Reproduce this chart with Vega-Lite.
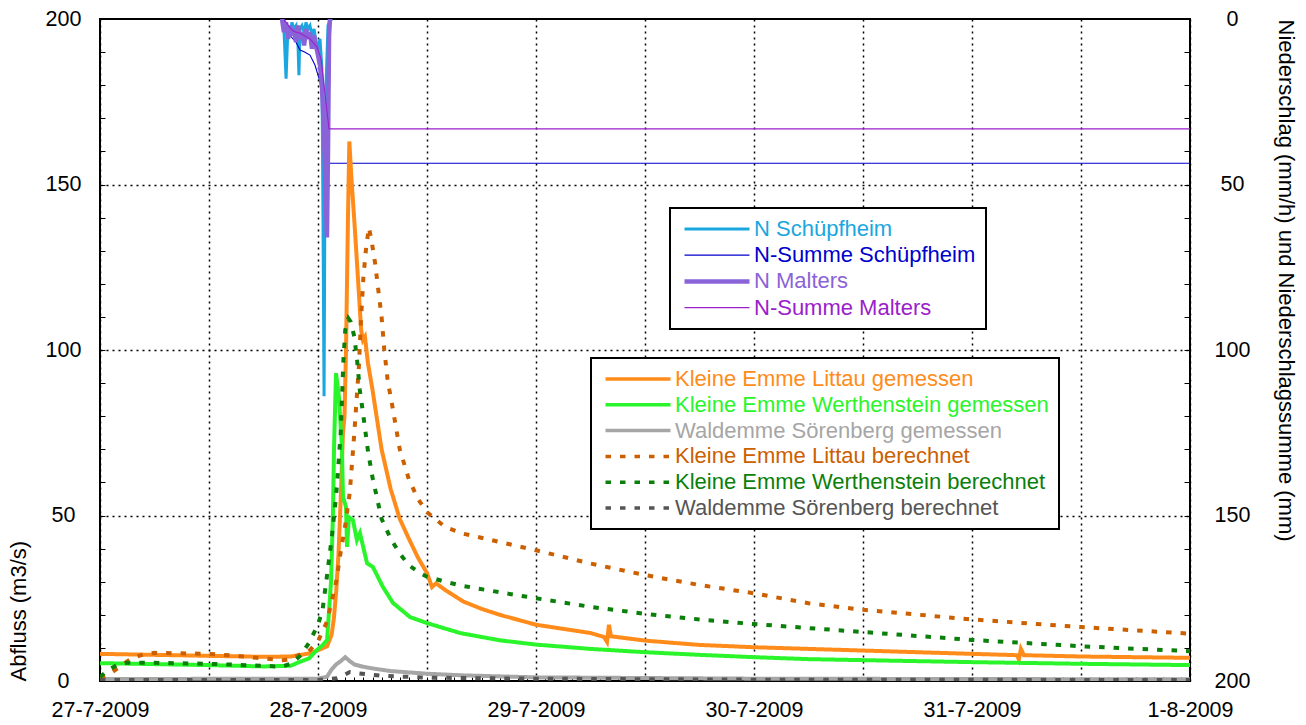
{
  "$schema": "https://vega.github.io/schema/vega-lite/v6.json",
  "width": 1090,
  "height": 662,
  "autosize": {"type": "none"},
  "padding": {"left": 100, "top": 19, "right": 116, "bottom": 44},
  "background": "white",
  "config": {
    "font": "Liberation Sans",
    "view": {"stroke": "black", "strokeWidth": 2},
    "axis": {
      "labelFont": "Liberation Sans", "labelFontSize": 21.5, "labelColor": "black",
      "titleFont": "Liberation Sans", "titleFontSize": 22, "titleFontWeight": "normal", "titleColor": "black",
      "domain": false, "tickColor": "black", "tickWidth": 1,
      "labelOverlap": false, "labelFlush": false, "labelBound": false
    }
  },
  "datasets": {
    "p": [
      {"t": "2009-07-27T20:02", "s": "N Schüpfheim", "v": 0},
      {"t": "2009-07-27T20:15", "s": "N Schüpfheim", "v": 3},
      {"t": "2009-07-27T20:29", "s": "N Schüpfheim", "v": 18},
      {"t": "2009-07-27T20:42", "s": "N Schüpfheim", "v": 2},
      {"t": "2009-07-27T20:55", "s": "N Schüpfheim", "v": 4},
      {"t": "2009-07-27T21:08", "s": "N Schüpfheim", "v": 1},
      {"t": "2009-07-27T21:21", "s": "N Schüpfheim", "v": 3},
      {"t": "2009-07-27T21:35", "s": "N Schüpfheim", "v": 2},
      {"t": "2009-07-27T21:48", "s": "N Schüpfheim", "v": 8},
      {"t": "2009-07-27T21:54", "s": "N Schüpfheim", "v": 17},
      {"t": "2009-07-27T22:01", "s": "N Schüpfheim", "v": 3},
      {"t": "2009-07-27T22:14", "s": "N Schüpfheim", "v": 2},
      {"t": "2009-07-27T22:28", "s": "N Schüpfheim", "v": 4},
      {"t": "2009-07-27T22:41", "s": "N Schüpfheim", "v": 1},
      {"t": "2009-07-27T22:54", "s": "N Schüpfheim", "v": 3},
      {"t": "2009-07-27T23:07", "s": "N Schüpfheim", "v": 2},
      {"t": "2009-07-27T23:20", "s": "N Schüpfheim", "v": 5},
      {"t": "2009-07-27T23:34", "s": "N Schüpfheim", "v": 3},
      {"t": "2009-07-27T23:47", "s": "N Schüpfheim", "v": 7},
      {"t": "2009-07-28T00:00", "s": "N Schüpfheim", "v": 9},
      {"t": "2009-07-28T00:13", "s": "N Schüpfheim", "v": 6},
      {"t": "2009-07-28T00:26", "s": "N Schüpfheim", "v": 15},
      {"t": "2009-07-28T00:33", "s": "N Schüpfheim", "v": 60},
      {"t": "2009-07-28T00:40", "s": "N Schüpfheim", "v": 114},
      {"t": "2009-07-28T00:46", "s": "N Schüpfheim", "v": 50},
      {"t": "2009-07-28T00:53", "s": "N Schüpfheim", "v": 20},
      {"t": "2009-07-28T01:06", "s": "N Schüpfheim", "v": 2},
      {"t": "2009-07-28T01:19", "s": "N Schüpfheim", "v": 0.5},
      {"t": "2009-07-28T01:32", "s": "N Schüpfheim", "v": 0},

      {"t": "2009-07-27T20:15", "s": "N-Summe Schüpfheim", "v": 0},
      {"t": "2009-07-27T20:55", "s": "N-Summe Schüpfheim", "v": 5},
      {"t": "2009-07-27T21:35", "s": "N-Summe Schüpfheim", "v": 7},
      {"t": "2009-07-27T22:01", "s": "N-Summe Schüpfheim", "v": 9.4},
      {"t": "2009-07-27T22:28", "s": "N-Summe Schüpfheim", "v": 9.9},
      {"t": "2009-07-27T23:07", "s": "N-Summe Schüpfheim", "v": 10.9},
      {"t": "2009-07-27T23:40", "s": "N-Summe Schüpfheim", "v": 13.9},
      {"t": "2009-07-28T00:13", "s": "N-Summe Schüpfheim", "v": 18.9},
      {"t": "2009-07-28T00:24", "s": "N-Summe Schüpfheim", "v": 23.9},
      {"t": "2009-07-28T00:40", "s": "N-Summe Schüpfheim", "v": 41.6},
      {"t": "2009-07-28T00:59", "s": "N-Summe Schüpfheim", "v": 43.6},
      {"t": "2009-08-01T00:00", "s": "N-Summe Schüpfheim", "v": 43.6},

      {"t": "2009-07-27T20:02", "s": "N Malters", "v": 0},
      {"t": "2009-07-27T20:15", "s": "N Malters", "v": 4},
      {"t": "2009-07-27T20:29", "s": "N Malters", "v": 1},
      {"t": "2009-07-27T20:42", "s": "N Malters", "v": 6},
      {"t": "2009-07-27T20:55", "s": "N Malters", "v": 2},
      {"t": "2009-07-27T21:08", "s": "N Malters", "v": 5},
      {"t": "2009-07-27T21:21", "s": "N Malters", "v": 3},
      {"t": "2009-07-27T21:35", "s": "N Malters", "v": 7},
      {"t": "2009-07-27T21:48", "s": "N Malters", "v": 2},
      {"t": "2009-07-27T22:01", "s": "N Malters", "v": 6},
      {"t": "2009-07-27T22:14", "s": "N Malters", "v": 4},
      {"t": "2009-07-27T22:28", "s": "N Malters", "v": 8},
      {"t": "2009-07-27T22:41", "s": "N Malters", "v": 3},
      {"t": "2009-07-27T22:54", "s": "N Malters", "v": 6},
      {"t": "2009-07-27T23:07", "s": "N Malters", "v": 4},
      {"t": "2009-07-27T23:20", "s": "N Malters", "v": 9},
      {"t": "2009-07-27T23:34", "s": "N Malters", "v": 5},
      {"t": "2009-07-27T23:47", "s": "N Malters", "v": 8},
      {"t": "2009-07-28T00:00", "s": "N Malters", "v": 11},
      {"t": "2009-07-28T00:13", "s": "N Malters", "v": 14},
      {"t": "2009-07-28T00:26", "s": "N Malters", "v": 20},
      {"t": "2009-07-28T00:40", "s": "N Malters", "v": 35},
      {"t": "2009-07-28T00:59", "s": "N Malters", "v": 66},
      {"t": "2009-07-28T01:06", "s": "N Malters", "v": 40},
      {"t": "2009-07-28T01:13", "s": "N Malters", "v": 5},
      {"t": "2009-07-28T01:19", "s": "N Malters", "v": 0},

      {"t": "2009-07-27T20:15", "s": "N-Summe Malters", "v": 0},
      {"t": "2009-07-27T20:55", "s": "N-Summe Malters", "v": 2.7},
      {"t": "2009-07-27T21:21", "s": "N-Summe Malters", "v": 3.8},
      {"t": "2009-07-27T22:01", "s": "N-Summe Malters", "v": 4.3},
      {"t": "2009-07-27T23:07", "s": "N-Summe Malters", "v": 6},
      {"t": "2009-07-27T23:53", "s": "N-Summe Malters", "v": 8.4},
      {"t": "2009-07-28T00:20", "s": "N-Summe Malters", "v": 12},
      {"t": "2009-07-28T00:40", "s": "N-Summe Malters", "v": 20},
      {"t": "2009-07-28T00:59", "s": "N-Summe Malters", "v": 28},
      {"t": "2009-07-28T01:06", "s": "N-Summe Malters", "v": 30.5},
      {"t": "2009-07-28T01:13", "s": "N-Summe Malters", "v": 33.2},
      {"t": "2009-08-01T00:00", "s": "N-Summe Malters", "v": 33.2}
    ],
    "q": [
      {"t": "2009-07-27T00:00", "s": "Kleine Emme Littau gemessen", "v": 8.2},
      {"t": "2009-07-27T06:00", "s": "Kleine Emme Littau gemessen", "v": 7.9},
      {"t": "2009-07-27T12:00", "s": "Kleine Emme Littau gemessen", "v": 7.6},
      {"t": "2009-07-27T18:00", "s": "Kleine Emme Littau gemessen", "v": 7.3},
      {"t": "2009-07-27T21:00", "s": "Kleine Emme Littau gemessen", "v": 7.4},
      {"t": "2009-07-27T23:00", "s": "Kleine Emme Littau gemessen", "v": 8.3},
      {"t": "2009-07-28T00:00", "s": "Kleine Emme Littau gemessen", "v": 9.3},
      {"t": "2009-07-28T01:00", "s": "Kleine Emme Littau gemessen", "v": 10.5},
      {"t": "2009-07-28T01:30", "s": "Kleine Emme Littau gemessen", "v": 14},
      {"t": "2009-07-28T01:45", "s": "Kleine Emme Littau gemessen", "v": 19},
      {"t": "2009-07-28T02:00", "s": "Kleine Emme Littau gemessen", "v": 27},
      {"t": "2009-07-28T02:15", "s": "Kleine Emme Littau gemessen", "v": 38},
      {"t": "2009-07-28T02:30", "s": "Kleine Emme Littau gemessen", "v": 55},
      {"t": "2009-07-28T02:45", "s": "Kleine Emme Littau gemessen", "v": 75},
      {"t": "2009-07-28T02:55", "s": "Kleine Emme Littau gemessen", "v": 80},
      {"t": "2009-07-28T03:05", "s": "Kleine Emme Littau gemessen", "v": 100},
      {"t": "2009-07-28T03:18", "s": "Kleine Emme Littau gemessen", "v": 140},
      {"t": "2009-07-28T03:27", "s": "Kleine Emme Littau gemessen", "v": 163},
      {"t": "2009-07-28T03:42", "s": "Kleine Emme Littau gemessen", "v": 151},
      {"t": "2009-07-28T04:00", "s": "Kleine Emme Littau gemessen", "v": 139},
      {"t": "2009-07-28T04:18", "s": "Kleine Emme Littau gemessen", "v": 126},
      {"t": "2009-07-28T04:45", "s": "Kleine Emme Littau gemessen", "v": 106},
      {"t": "2009-07-28T04:57", "s": "Kleine Emme Littau gemessen", "v": 103},
      {"t": "2009-07-28T05:10", "s": "Kleine Emme Littau gemessen", "v": 104},
      {"t": "2009-07-28T05:30", "s": "Kleine Emme Littau gemessen", "v": 96},
      {"t": "2009-07-28T06:00", "s": "Kleine Emme Littau gemessen", "v": 88},
      {"t": "2009-07-28T07:00", "s": "Kleine Emme Littau gemessen", "v": 70},
      {"t": "2009-07-28T08:00", "s": "Kleine Emme Littau gemessen", "v": 58},
      {"t": "2009-07-28T09:00", "s": "Kleine Emme Littau gemessen", "v": 49},
      {"t": "2009-07-28T10:00", "s": "Kleine Emme Littau gemessen", "v": 43},
      {"t": "2009-07-28T11:00", "s": "Kleine Emme Littau gemessen", "v": 37.3},
      {"t": "2009-07-28T12:00", "s": "Kleine Emme Littau gemessen", "v": 32.6},
      {"t": "2009-07-28T12:33", "s": "Kleine Emme Littau gemessen", "v": 28.4},
      {"t": "2009-07-28T13:00", "s": "Kleine Emme Littau gemessen", "v": 29.5},
      {"t": "2009-07-28T14:00", "s": "Kleine Emme Littau gemessen", "v": 27.5},
      {"t": "2009-07-28T16:00", "s": "Kleine Emme Littau gemessen", "v": 24},
      {"t": "2009-07-28T18:00", "s": "Kleine Emme Littau gemessen", "v": 21.8},
      {"t": "2009-07-28T20:00", "s": "Kleine Emme Littau gemessen", "v": 20},
      {"t": "2009-07-29T00:00", "s": "Kleine Emme Littau gemessen", "v": 17},
      {"t": "2009-07-29T06:00", "s": "Kleine Emme Littau gemessen", "v": 14.5},
      {"t": "2009-07-29T07:29", "s": "Kleine Emme Littau gemessen", "v": 13.3},
      {"t": "2009-07-29T07:49", "s": "Kleine Emme Littau gemessen", "v": 11.8},
      {"t": "2009-07-29T08:02", "s": "Kleine Emme Littau gemessen", "v": 17},
      {"t": "2009-07-29T08:15", "s": "Kleine Emme Littau gemessen", "v": 13.5},
      {"t": "2009-07-29T12:00", "s": "Kleine Emme Littau gemessen", "v": 12.2},
      {"t": "2009-07-29T18:00", "s": "Kleine Emme Littau gemessen", "v": 10.9},
      {"t": "2009-07-30T00:00", "s": "Kleine Emme Littau gemessen", "v": 10.2},
      {"t": "2009-07-30T12:00", "s": "Kleine Emme Littau gemessen", "v": 9.2},
      {"t": "2009-07-31T00:00", "s": "Kleine Emme Littau gemessen", "v": 8.2},
      {"t": "2009-07-31T04:57", "s": "Kleine Emme Littau gemessen", "v": 7.8},
      {"t": "2009-07-31T05:10", "s": "Kleine Emme Littau gemessen", "v": 6.5},
      {"t": "2009-07-31T05:23", "s": "Kleine Emme Littau gemessen", "v": 9.7},
      {"t": "2009-07-31T05:43", "s": "Kleine Emme Littau gemessen", "v": 7.8},
      {"t": "2009-07-31T12:00", "s": "Kleine Emme Littau gemessen", "v": 7.4},
      {"t": "2009-08-01T00:00", "s": "Kleine Emme Littau gemessen", "v": 7.0},

      {"t": "2009-07-27T00:00", "s": "Kleine Emme Werthenstein gemessen", "v": 5.4},
      {"t": "2009-07-27T06:00", "s": "Kleine Emme Werthenstein gemessen", "v": 5.1},
      {"t": "2009-07-27T12:00", "s": "Kleine Emme Werthenstein gemessen", "v": 4.8},
      {"t": "2009-07-27T18:00", "s": "Kleine Emme Werthenstein gemessen", "v": 4.4},
      {"t": "2009-07-27T21:00", "s": "Kleine Emme Werthenstein gemessen", "v": 4.6},
      {"t": "2009-07-27T22:00", "s": "Kleine Emme Werthenstein gemessen", "v": 5.8},
      {"t": "2009-07-27T23:00", "s": "Kleine Emme Werthenstein gemessen", "v": 6.8},
      {"t": "2009-07-27T23:54", "s": "Kleine Emme Werthenstein gemessen", "v": 9.4},
      {"t": "2009-07-28T00:30", "s": "Kleine Emme Werthenstein gemessen", "v": 10.8},
      {"t": "2009-07-28T01:00", "s": "Kleine Emme Werthenstein gemessen", "v": 12.4},
      {"t": "2009-07-28T01:26", "s": "Kleine Emme Werthenstein gemessen", "v": 30},
      {"t": "2009-07-28T01:39", "s": "Kleine Emme Werthenstein gemessen", "v": 50.8},
      {"t": "2009-07-28T01:46", "s": "Kleine Emme Werthenstein gemessen", "v": 70.7},
      {"t": "2009-07-28T01:59", "s": "Kleine Emme Werthenstein gemessen", "v": 93},
      {"t": "2009-07-28T02:18", "s": "Kleine Emme Werthenstein gemessen", "v": 86},
      {"t": "2009-07-28T02:38", "s": "Kleine Emme Werthenstein gemessen", "v": 70.7},
      {"t": "2009-07-28T02:45", "s": "Kleine Emme Werthenstein gemessen", "v": 55.6},
      {"t": "2009-07-28T03:05", "s": "Kleine Emme Werthenstein gemessen", "v": 52.6},
      {"t": "2009-07-28T03:12", "s": "Kleine Emme Werthenstein gemessen", "v": 40.5},
      {"t": "2009-07-28T03:24", "s": "Kleine Emme Werthenstein gemessen", "v": 49.5},
      {"t": "2009-07-28T03:51", "s": "Kleine Emme Werthenstein gemessen", "v": 48.6},
      {"t": "2009-07-28T04:17", "s": "Kleine Emme Werthenstein gemessen", "v": 42.6},
      {"t": "2009-07-28T04:37", "s": "Kleine Emme Werthenstein gemessen", "v": 44.7},
      {"t": "2009-07-28T05:24", "s": "Kleine Emme Werthenstein gemessen", "v": 35.6},
      {"t": "2009-07-28T06:03", "s": "Kleine Emme Werthenstein gemessen", "v": 34.4},
      {"t": "2009-07-28T07:09", "s": "Kleine Emme Werthenstein gemessen", "v": 28.4},
      {"t": "2009-07-28T08:15", "s": "Kleine Emme Werthenstein gemessen", "v": 23.6},
      {"t": "2009-07-28T10:08", "s": "Kleine Emme Werthenstein gemessen", "v": 19.3},
      {"t": "2009-07-28T12:00", "s": "Kleine Emme Werthenstein gemessen", "v": 17.5},
      {"t": "2009-07-28T15:38", "s": "Kleine Emme Werthenstein gemessen", "v": 14.5},
      {"t": "2009-07-28T20:00", "s": "Kleine Emme Werthenstein gemessen", "v": 12.3},
      {"t": "2009-07-29T00:00", "s": "Kleine Emme Werthenstein gemessen", "v": 11},
      {"t": "2009-07-29T06:00", "s": "Kleine Emme Werthenstein gemessen", "v": 9.7},
      {"t": "2009-07-29T12:00", "s": "Kleine Emme Werthenstein gemessen", "v": 8.7},
      {"t": "2009-07-29T18:00", "s": "Kleine Emme Werthenstein gemessen", "v": 7.9},
      {"t": "2009-07-30T00:00", "s": "Kleine Emme Werthenstein gemessen", "v": 7.2},
      {"t": "2009-07-30T06:00", "s": "Kleine Emme Werthenstein gemessen", "v": 6.6},
      {"t": "2009-07-30T12:00", "s": "Kleine Emme Werthenstein gemessen", "v": 6.3},
      {"t": "2009-07-31T00:00", "s": "Kleine Emme Werthenstein gemessen", "v": 5.7},
      {"t": "2009-07-31T12:00", "s": "Kleine Emme Werthenstein gemessen", "v": 5.2},
      {"t": "2009-08-01T00:00", "s": "Kleine Emme Werthenstein gemessen", "v": 4.8},

      {"t": "2009-07-27T00:00", "s": "Waldemme Sörenberg gemessen", "v": 0.6},
      {"t": "2009-07-28T00:00", "s": "Waldemme Sörenberg gemessen", "v": 0.7},
      {"t": "2009-07-28T01:00", "s": "Waldemme Sörenberg gemessen", "v": 1.3},
      {"t": "2009-07-28T01:30", "s": "Waldemme Sörenberg gemessen", "v": 3.5},
      {"t": "2009-07-28T02:00", "s": "Waldemme Sörenberg gemessen", "v": 5},
      {"t": "2009-07-28T02:30", "s": "Waldemme Sörenberg gemessen", "v": 6},
      {"t": "2009-07-28T03:00", "s": "Waldemme Sörenberg gemessen", "v": 7.2},
      {"t": "2009-07-28T03:30", "s": "Waldemme Sörenberg gemessen", "v": 6},
      {"t": "2009-07-28T04:00", "s": "Waldemme Sörenberg gemessen", "v": 5},
      {"t": "2009-07-28T05:00", "s": "Waldemme Sörenberg gemessen", "v": 4.3},
      {"t": "2009-07-28T06:00", "s": "Waldemme Sörenberg gemessen", "v": 3.8},
      {"t": "2009-07-28T08:00", "s": "Waldemme Sörenberg gemessen", "v": 3},
      {"t": "2009-07-28T12:00", "s": "Waldemme Sörenberg gemessen", "v": 2.2},
      {"t": "2009-07-28T16:00", "s": "Waldemme Sörenberg gemessen", "v": 1.7},
      {"t": "2009-07-28T20:00", "s": "Waldemme Sörenberg gemessen", "v": 1.4},
      {"t": "2009-07-29T00:00", "s": "Waldemme Sörenberg gemessen", "v": 1.1},
      {"t": "2009-07-29T12:00", "s": "Waldemme Sörenberg gemessen", "v": 0.9},
      {"t": "2009-07-30T00:00", "s": "Waldemme Sörenberg gemessen", "v": 0.7},
      {"t": "2009-07-31T00:00", "s": "Waldemme Sörenberg gemessen", "v": 0.6},
      {"t": "2009-08-01T00:00", "s": "Waldemme Sörenberg gemessen", "v": 0.5},

      {"t": "2009-07-27T00:00", "s": "Kleine Emme Littau berechnet", "v": 1},
      {"t": "2009-07-27T01:00", "s": "Kleine Emme Littau berechnet", "v": 2},
      {"t": "2009-07-27T02:00", "s": "Kleine Emme Littau berechnet", "v": 4},
      {"t": "2009-07-27T03:00", "s": "Kleine Emme Littau berechnet", "v": 6},
      {"t": "2009-07-27T04:00", "s": "Kleine Emme Littau berechnet", "v": 7.3},
      {"t": "2009-07-27T05:00", "s": "Kleine Emme Littau berechnet", "v": 8.2},
      {"t": "2009-07-27T06:00", "s": "Kleine Emme Littau berechnet", "v": 8.5},
      {"t": "2009-07-27T12:00", "s": "Kleine Emme Littau berechnet", "v": 8.2},
      {"t": "2009-07-27T15:00", "s": "Kleine Emme Littau berechnet", "v": 7.6},
      {"t": "2009-07-27T18:00", "s": "Kleine Emme Littau berechnet", "v": 6.8},
      {"t": "2009-07-27T20:00", "s": "Kleine Emme Littau berechnet", "v": 6.3},
      {"t": "2009-07-27T21:00", "s": "Kleine Emme Littau berechnet", "v": 6.5},
      {"t": "2009-07-27T22:00", "s": "Kleine Emme Littau berechnet", "v": 8},
      {"t": "2009-07-27T23:00", "s": "Kleine Emme Littau berechnet", "v": 9},
      {"t": "2009-07-28T00:00", "s": "Kleine Emme Littau berechnet", "v": 12},
      {"t": "2009-07-28T01:00", "s": "Kleine Emme Littau berechnet", "v": 18},
      {"t": "2009-07-28T02:00", "s": "Kleine Emme Littau berechnet", "v": 30},
      {"t": "2009-07-28T02:30", "s": "Kleine Emme Littau berechnet", "v": 39},
      {"t": "2009-07-28T03:00", "s": "Kleine Emme Littau berechnet", "v": 47},
      {"t": "2009-07-28T03:30", "s": "Kleine Emme Littau berechnet", "v": 57},
      {"t": "2009-07-28T04:00", "s": "Kleine Emme Littau berechnet", "v": 75},
      {"t": "2009-07-28T04:30", "s": "Kleine Emme Littau berechnet", "v": 95},
      {"t": "2009-07-28T04:45", "s": "Kleine Emme Littau berechnet", "v": 110},
      {"t": "2009-07-28T05:00", "s": "Kleine Emme Littau berechnet", "v": 122},
      {"t": "2009-07-28T05:18", "s": "Kleine Emme Littau berechnet", "v": 131},
      {"t": "2009-07-28T05:36", "s": "Kleine Emme Littau berechnet", "v": 137},
      {"t": "2009-07-28T05:54", "s": "Kleine Emme Littau berechnet", "v": 133},
      {"t": "2009-07-28T06:18", "s": "Kleine Emme Littau berechnet", "v": 126},
      {"t": "2009-07-28T06:36", "s": "Kleine Emme Littau berechnet", "v": 119},
      {"t": "2009-07-28T07:00", "s": "Kleine Emme Littau berechnet", "v": 110},
      {"t": "2009-07-28T07:18", "s": "Kleine Emme Littau berechnet", "v": 100},
      {"t": "2009-07-28T07:42", "s": "Kleine Emme Littau berechnet", "v": 90},
      {"t": "2009-07-28T08:00", "s": "Kleine Emme Littau berechnet", "v": 86},
      {"t": "2009-07-28T08:30", "s": "Kleine Emme Littau berechnet", "v": 78},
      {"t": "2009-07-28T09:00", "s": "Kleine Emme Littau berechnet", "v": 70},
      {"t": "2009-07-28T10:00", "s": "Kleine Emme Littau berechnet", "v": 61},
      {"t": "2009-07-28T11:00", "s": "Kleine Emme Littau berechnet", "v": 55},
      {"t": "2009-07-28T12:00", "s": "Kleine Emme Littau berechnet", "v": 51},
      {"t": "2009-07-28T14:00", "s": "Kleine Emme Littau berechnet", "v": 46.5},
      {"t": "2009-07-28T16:00", "s": "Kleine Emme Littau berechnet", "v": 44.5},
      {"t": "2009-07-28T20:00", "s": "Kleine Emme Littau berechnet", "v": 42},
      {"t": "2009-07-29T00:00", "s": "Kleine Emme Littau berechnet", "v": 39.5},
      {"t": "2009-07-29T06:00", "s": "Kleine Emme Littau berechnet", "v": 35.5},
      {"t": "2009-07-29T12:00", "s": "Kleine Emme Littau berechnet", "v": 32},
      {"t": "2009-07-29T18:00", "s": "Kleine Emme Littau berechnet", "v": 29},
      {"t": "2009-07-30T00:00", "s": "Kleine Emme Littau berechnet", "v": 26.5},
      {"t": "2009-07-30T06:00", "s": "Kleine Emme Littau berechnet", "v": 23.5},
      {"t": "2009-07-30T12:00", "s": "Kleine Emme Littau berechnet", "v": 21.5},
      {"t": "2009-07-31T00:00", "s": "Kleine Emme Littau berechnet", "v": 18.6},
      {"t": "2009-07-31T12:00", "s": "Kleine Emme Littau berechnet", "v": 16.3},
      {"t": "2009-08-01T00:00", "s": "Kleine Emme Littau berechnet", "v": 14.3},

      {"t": "2009-07-27T00:00", "s": "Kleine Emme Werthenstein berechnet", "v": 1.2},
      {"t": "2009-07-27T01:00", "s": "Kleine Emme Werthenstein berechnet", "v": 3.5},
      {"t": "2009-07-27T02:00", "s": "Kleine Emme Werthenstein berechnet", "v": 5},
      {"t": "2009-07-27T03:00", "s": "Kleine Emme Werthenstein berechnet", "v": 5.5},
      {"t": "2009-07-27T06:00", "s": "Kleine Emme Werthenstein berechnet", "v": 5.5},
      {"t": "2009-07-27T12:00", "s": "Kleine Emme Werthenstein berechnet", "v": 5.2},
      {"t": "2009-07-27T18:00", "s": "Kleine Emme Werthenstein berechnet", "v": 4.6},
      {"t": "2009-07-27T20:00", "s": "Kleine Emme Werthenstein berechnet", "v": 4.3},
      {"t": "2009-07-27T21:00", "s": "Kleine Emme Werthenstein berechnet", "v": 5.2},
      {"t": "2009-07-27T22:00", "s": "Kleine Emme Werthenstein berechnet", "v": 7.5},
      {"t": "2009-07-27T23:00", "s": "Kleine Emme Werthenstein berechnet", "v": 11.5},
      {"t": "2009-07-28T00:00", "s": "Kleine Emme Werthenstein berechnet", "v": 17},
      {"t": "2009-07-28T00:30", "s": "Kleine Emme Werthenstein berechnet", "v": 21.5},
      {"t": "2009-07-28T01:00", "s": "Kleine Emme Werthenstein berechnet", "v": 32},
      {"t": "2009-07-28T01:30", "s": "Kleine Emme Werthenstein berechnet", "v": 43},
      {"t": "2009-07-28T02:00", "s": "Kleine Emme Werthenstein berechnet", "v": 56},
      {"t": "2009-07-28T02:30", "s": "Kleine Emme Werthenstein berechnet", "v": 75},
      {"t": "2009-07-28T02:48", "s": "Kleine Emme Werthenstein berechnet", "v": 97},
      {"t": "2009-07-28T03:00", "s": "Kleine Emme Werthenstein berechnet", "v": 106},
      {"t": "2009-07-28T03:21", "s": "Kleine Emme Werthenstein berechnet", "v": 109.5},
      {"t": "2009-07-28T03:36", "s": "Kleine Emme Werthenstein berechnet", "v": 108.5},
      {"t": "2009-07-28T04:00", "s": "Kleine Emme Werthenstein berechnet", "v": 104},
      {"t": "2009-07-28T04:18", "s": "Kleine Emme Werthenstein berechnet", "v": 97},
      {"t": "2009-07-28T04:36", "s": "Kleine Emme Werthenstein berechnet", "v": 88},
      {"t": "2009-07-28T05:00", "s": "Kleine Emme Werthenstein berechnet", "v": 80},
      {"t": "2009-07-28T05:30", "s": "Kleine Emme Werthenstein berechnet", "v": 69.5},
      {"t": "2009-07-28T06:00", "s": "Kleine Emme Werthenstein berechnet", "v": 61.5},
      {"t": "2009-07-28T07:00", "s": "Kleine Emme Werthenstein berechnet", "v": 49},
      {"t": "2009-07-28T08:00", "s": "Kleine Emme Werthenstein berechnet", "v": 43},
      {"t": "2009-07-28T09:00", "s": "Kleine Emme Werthenstein berechnet", "v": 38.5},
      {"t": "2009-07-28T10:00", "s": "Kleine Emme Werthenstein berechnet", "v": 35},
      {"t": "2009-07-28T11:00", "s": "Kleine Emme Werthenstein berechnet", "v": 33},
      {"t": "2009-07-28T12:00", "s": "Kleine Emme Werthenstein berechnet", "v": 31.5},
      {"t": "2009-07-28T14:00", "s": "Kleine Emme Werthenstein berechnet", "v": 30},
      {"t": "2009-07-28T16:00", "s": "Kleine Emme Werthenstein berechnet", "v": 28.7},
      {"t": "2009-07-28T20:00", "s": "Kleine Emme Werthenstein berechnet", "v": 26.8},
      {"t": "2009-07-29T00:00", "s": "Kleine Emme Werthenstein berechnet", "v": 25},
      {"t": "2009-07-29T06:00", "s": "Kleine Emme Werthenstein berechnet", "v": 22.4},
      {"t": "2009-07-29T12:00", "s": "Kleine Emme Werthenstein berechnet", "v": 20.3},
      {"t": "2009-07-29T18:00", "s": "Kleine Emme Werthenstein berechnet", "v": 18.6},
      {"t": "2009-07-30T00:00", "s": "Kleine Emme Werthenstein berechnet", "v": 17.2},
      {"t": "2009-07-30T06:00", "s": "Kleine Emme Werthenstein berechnet", "v": 16},
      {"t": "2009-07-30T12:00", "s": "Kleine Emme Werthenstein berechnet", "v": 14.8},
      {"t": "2009-07-31T00:00", "s": "Kleine Emme Werthenstein berechnet", "v": 12.4},
      {"t": "2009-07-31T12:00", "s": "Kleine Emme Werthenstein berechnet", "v": 10.5},
      {"t": "2009-08-01T00:00", "s": "Kleine Emme Werthenstein berechnet", "v": 9},

      {"t": "2009-07-27T00:00", "s": "Waldemme Sörenberg berechnet", "v": 0.3},
      {"t": "2009-07-28T00:00", "s": "Waldemme Sörenberg berechnet", "v": 0.3},
      {"t": "2009-07-28T02:00", "s": "Waldemme Sörenberg berechnet", "v": 0.8},
      {"t": "2009-07-28T03:00", "s": "Waldemme Sörenberg berechnet", "v": 2},
      {"t": "2009-07-28T03:30", "s": "Waldemme Sörenberg berechnet", "v": 2.7},
      {"t": "2009-07-28T04:30", "s": "Waldemme Sörenberg berechnet", "v": 2.3},
      {"t": "2009-07-28T05:30", "s": "Waldemme Sörenberg berechnet", "v": 2.0},
      {"t": "2009-07-28T07:00", "s": "Waldemme Sörenberg berechnet", "v": 1.6},
      {"t": "2009-07-28T12:00", "s": "Waldemme Sörenberg berechnet", "v": 1.0},
      {"t": "2009-07-29T00:00", "s": "Waldemme Sörenberg berechnet", "v": 0.7},
      {"t": "2009-07-30T00:00", "s": "Waldemme Sörenberg berechnet", "v": 0.4},
      {"t": "2009-08-01T00:00", "s": "Waldemme Sörenberg berechnet", "v": 0.3}
    ]
  },
  "layer": [
    {
      "data": {"name": "p"},
      "mark": {"type": "line", "clip": true},
      "encoding": {
        "x": {
          "field": "t", "type": "temporal",
          "scale": {"nice": false},
          "axis": {
            "orient": "bottom", "title": null,
            "tickCount": 120, "format": "%-d-%-m-%Y",
            "labelExpr": "hours(datum.value) == 0 ? datum.label : ''",
            "grid": true, "gridColor": "black", "gridDash": [2, 4], "gridWidth": 1.5,
            "gridOpacity": {"condition": {"test": "hours(datum.value) % 12 == 0", "value": 1}, "value": 0},
            "tickSize": -4, "labelPadding": 22, "labelBaseline": "top"
          }
        },
        "y": {
          "field": "v", "type": "quantitative",
          "scale": {"domain": [0, 200], "reverse": true, "nice": false, "zero": false},
          "axis": {
            "orient": "right",
            "values": [0, 10, 20, 30, 40, 50, 60, 70, 80, 90, 100, 110, 120, 130, 140, 150, 160, 170, 180, 190, 200],
            "labelExpr": "datum.value % 50 == 0 ? datum.label : ''",
            "grid": false, "tickSize": -6, "labelAlign": "center", "labelPadding": 48,
            "title": "Niederschlag (mm/h) und Niederschlagssumme (mm)",
            "titleAngle": 90, "titleAnchor": "start", "titleAlign": "left", "titlePadding": 24
          }
        },
        "color": {
          "field": "s", "type": "nominal",
          "scale": {
            "domain": ["N Schüpfheim", "N-Summe Schüpfheim", "N Malters", "N-Summe Malters"],
            "range": ["#1aa7e0", "#0000cc", "#8a63d8", "#9b20cc"]
          },
          "legend": {
            "orient": "none", "legendX": 570, "legendY": 189, "title": null,
            "symbolType": "M-5,0H5", "symbolSize": 169, "symbolOffset": 26, "labelOffset": 26,
            "labelFont": "Liberation Sans", "labelFontSize": 22, "labelLimit": 600,
            "padding": 10, "rowPadding": 4.2, "strokeColor": "black", "fillColor": "white",
            "encode": {
              "legend": {"update": {"strokeWidth": {"value": 2}}},
              "symbols": {"update": {"strokeWidth": {"signal": "datum.value == 'N Schüpfheim' ? 3 : datum.value == 'N Malters' ? 4.5 : 1.2"}}},
              "labels": {"update": {"fill": {"signal": "datum.value == 'N Schüpfheim' ? '#1aa7e0' : datum.value == 'N-Summe Schüpfheim' ? '#0000cc' : datum.value == 'N Malters' ? '#8a63d8' : '#9b20cc'"}}}
            }
          }
        },
        "strokeWidth": {
          "condition": [
            {"test": "datum.s == 'N Schüpfheim'", "value": 3},
            {"test": "datum.s == 'N Malters'", "value": 4.5}
          ],
          "value": 1.1
        }
      }
    },
    {
      "data": {"name": "q"},
      "mark": {"type": "line", "clip": true, "strokeWidth": 4},
      "encoding": {
        "x": {
          "field": "t", "type": "temporal",
          "scale": {"nice": false},
          "axis": {
            "orient": "bottom", "title": null,
            "tickCount": 120, "format": "%-d-%-m-%Y",
            "labelExpr": "hours(datum.value) == 0 ? datum.label : ''",
            "grid": true, "gridColor": "black", "gridDash": [2, 4], "gridWidth": 1.5,
            "gridOpacity": {"condition": {"test": "hours(datum.value) % 12 == 0", "value": 1}, "value": 0},
            "tickSize": -4, "labelPadding": 22, "labelBaseline": "top"
          }
        },
        "y": {
          "field": "v", "type": "quantitative",
          "scale": {"domain": [0, 200], "nice": false},
          "axis": {
            "orient": "left",
            "values": [0, 10, 20, 30, 40, 50, 60, 70, 80, 90, 100, 110, 120, 130, 140, 150, 160, 170, 180, 190, 200],
            "labelExpr": "datum.value % 50 == 0 ? datum.label : ''",
            "grid": true, "gridColor": "black", "gridDash": [2, 4], "gridWidth": 1.5,
            "gridOpacity": {"condition": {"test": "datum.value % 50 == 0 && datum.value > 0 && datum.value < 200", "value": 1}, "value": 0},
            "tickSize": -5, "labelAlign": "center", "labelPadding": 42,
            "title": "Abfluss (m3/s)", "titleAnchor": "start", "titleAlign": "left", "titlePadding": 15
          }
        },
        "color": {
          "field": "s", "type": "nominal",
          "scale": {
            "domain": ["Kleine Emme Littau gemessen", "Kleine Emme Werthenstein gemessen", "Waldemme Sörenberg gemessen", "Kleine Emme Littau berechnet", "Kleine Emme Werthenstein berechnet", "Waldemme Sörenberg berechnet"],
            "range": ["#ff8c1a", "#2af52a", "#a6a6a6", "#cc6000", "#0a7f0a", "#555555"]
          },
          "legend": {
            "orient": "none", "legendX": 491, "legendY": 339, "title": null,
            "symbolType": "M-5,0H5", "symbolSize": 169, "symbolOffset": 26, "labelOffset": 26, "symbolStrokeWidth": 3.5,
            "labelFont": "Liberation Sans", "labelFontSize": 22, "labelLimit": 600,
            "padding": 10, "rowPadding": 3.8, "strokeColor": "black", "fillColor": "white",
            "encode": {
              "legend": {"update": {"strokeWidth": {"value": 2}}},
              "labels": {"update": {"fill": {"signal": "datum.value == 'Kleine Emme Littau gemessen' ? '#ff8c1a' : datum.value == 'Kleine Emme Werthenstein gemessen' ? '#2af52a' : datum.value == 'Waldemme Sörenberg gemessen' ? '#a6a6a6' : datum.value == 'Kleine Emme Littau berechnet' ? '#cc6000' : datum.value == 'Kleine Emme Werthenstein berechnet' ? '#0a7f0a' : '#555555'"}}}
            }
          }
        },
        "strokeDash": {
          "field": "s", "type": "nominal",
          "scale": {
            "domain": ["Kleine Emme Littau gemessen", "Kleine Emme Werthenstein gemessen", "Waldemme Sörenberg gemessen", "Kleine Emme Littau berechnet", "Kleine Emme Werthenstein berechnet", "Waldemme Sörenberg berechnet"],
            "range": [[1, 0], [1, 0], [1, 0], [5.5, 9], [5.5, 9], [5.5, 9]]
          },
          "legend": {
            "orient": "none", "legendX": 491, "legendY": 339, "title": null,
            "symbolType": "M-5,0H5", "symbolSize": 169, "symbolOffset": 26, "labelOffset": 26, "symbolStrokeWidth": 3.5,
            "labelFont": "Liberation Sans", "labelFontSize": 22, "labelLimit": 600,
            "padding": 10, "rowPadding": 3.8, "strokeColor": "black", "fillColor": "white",
            "encode": {
              "legend": {"update": {"strokeWidth": {"value": 2}}},
              "labels": {"update": {"fill": {"signal": "datum.value == 'Kleine Emme Littau gemessen' ? '#ff8c1a' : datum.value == 'Kleine Emme Werthenstein gemessen' ? '#2af52a' : datum.value == 'Waldemme Sörenberg gemessen' ? '#a6a6a6' : datum.value == 'Kleine Emme Littau berechnet' ? '#cc6000' : datum.value == 'Kleine Emme Werthenstein berechnet' ? '#0a7f0a' : '#555555'"}}}
            }
          }
        }
      }
    }
  ],
  "resolve": {"scale": {"y": "independent", "color": "independent", "strokeDash": "independent"}}
}
